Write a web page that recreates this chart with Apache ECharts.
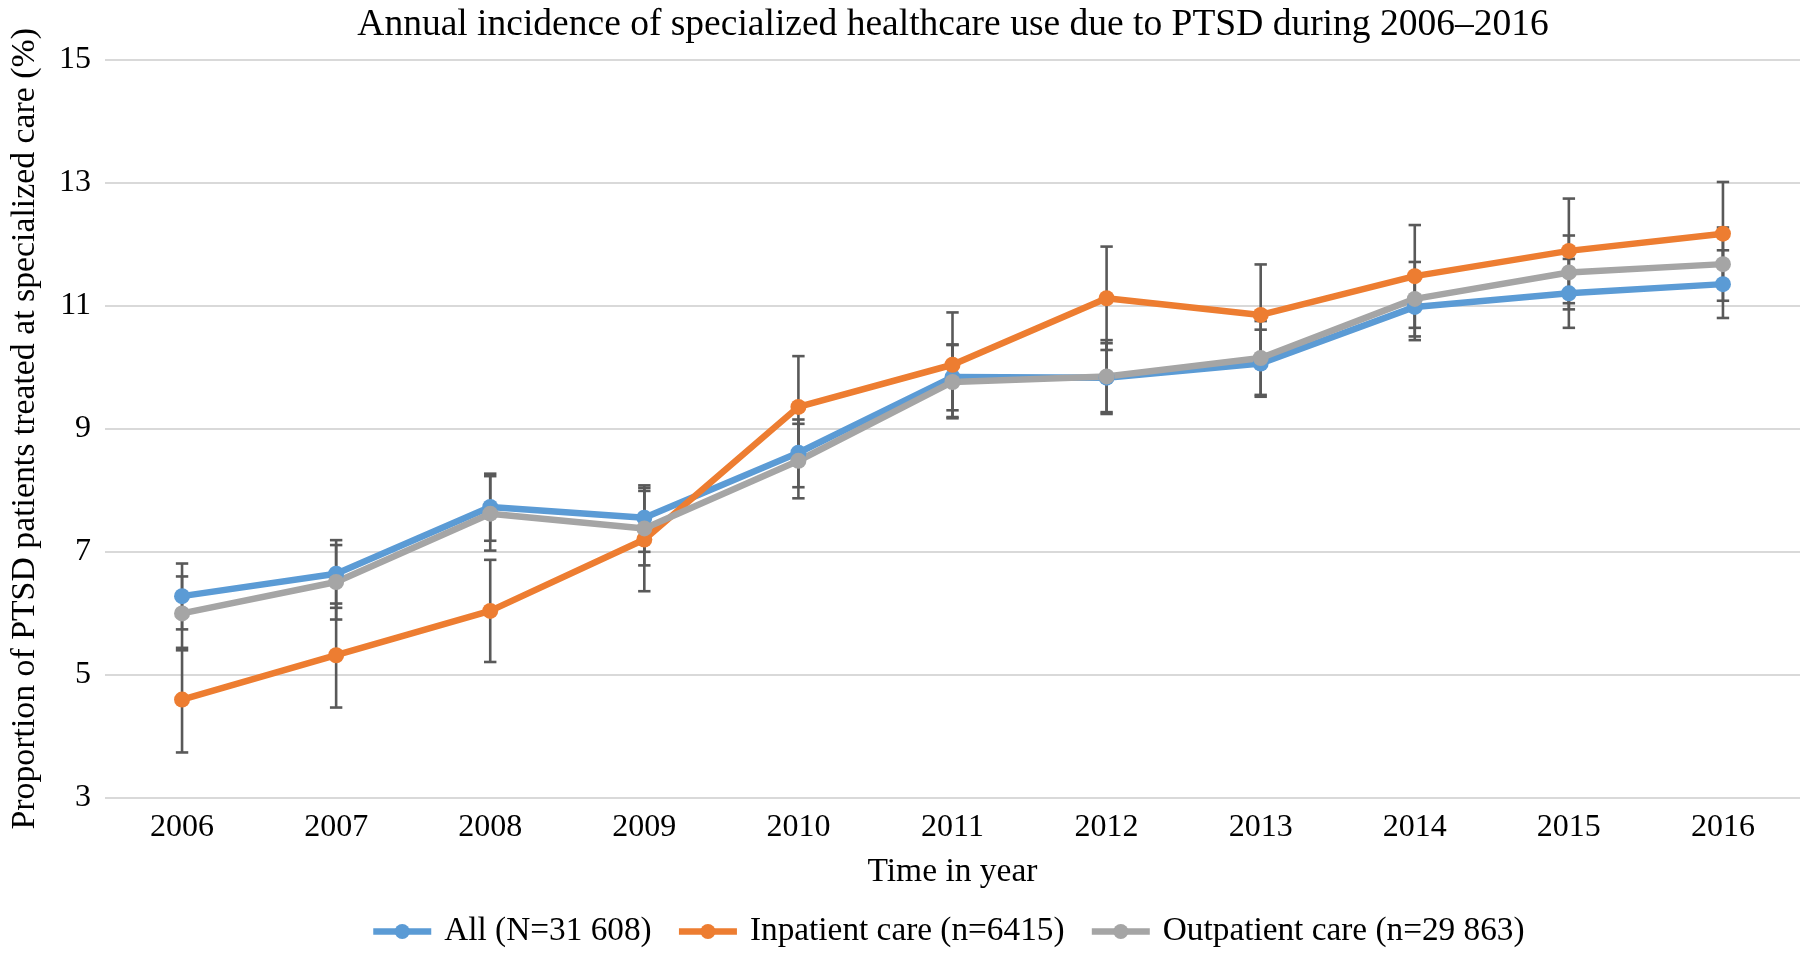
<!DOCTYPE html>
<html>
<head>
<meta charset="utf-8">
<script src="https://cdn.jsdelivr.net/npm/echarts@6/dist/echarts.min.js"></script>
<style>html,body{margin:0;padding:0;background:#fff}#c{width:1804px;height:954px}</style>
</head>
<body>
<div id="c"></div>
<script>
const years = ['2006','2007','2008','2009','2010','2011','2012','2013','2014','2015','2016'];
const yTicks = [3, 5, 7, 9, 11, 13, 15];

const allVals  = [6.28, 6.645, 7.73, 7.555, 8.61, 9.84, 9.83, 10.06, 10.98, 11.20, 11.35];
const allLow   = [5.74, 6.09, 7.18, 7.00, 8.05, 9.30, 9.27, 9.52, 10.44, 10.64, 10.80];
const allHigh  = [6.81, 7.19, 8.27, 8.08, 9.15, 10.37, 10.39, 10.61, 11.52, 11.76, 11.90];

const inpVals  = [4.60, 5.32, 6.04, 7.20, 9.355, 10.04, 11.12, 10.85, 11.48, 11.89, 12.17];
const inpLow   = [3.74, 4.47, 5.21, 6.36, 8.53, 9.19, 10.28, 10.02, 10.64, 11.04, 11.33];
const inpHigh  = [5.44, 6.16, 6.87, 8.04, 10.18, 10.89, 11.96, 11.67, 12.31, 12.74, 13.01];

const outVals  = [6.00, 6.51, 7.62, 7.38, 8.48, 9.76, 9.85, 10.15, 11.11, 11.54, 11.675];
const outLow   = [5.40, 5.90, 7.02, 6.78, 7.87, 9.17, 9.24, 9.55, 10.50, 10.94, 11.08];
const outHigh  = [6.60, 7.11, 8.23, 7.99, 9.08, 10.36, 10.44, 10.75, 11.71, 12.14, 12.27];

const names = ['All (N=31 608)', 'Inpatient care (n=6415)', 'Outpatient care (n=29 863)'];
const colors = ['#5b9bd5', '#ed7d31', '#a5a5a5'];

const FONT = '"Liberation Serif", "Times New Roman", serif';

function errData(low, high) {
  return years.map((y, i) => [i, low[i], high[i]]);
}
function errSeries(low, high) {
  return {
    type: 'custom',
    silent: true,
    z: 1,
    data: errData(low, high),
    renderItem: function (params, api) {
      const i = api.value(0);
      const p1 = api.coord([i, api.value(1)]);
      const p2 = api.coord([i, api.value(2)]);
      const hw = 6.2;
      const st = { stroke: '#595959', lineWidth: 2.6 };
      return {
        type: 'group',
        children: [
          { type: 'line', shape: { x1: p1[0], y1: p1[1], x2: p2[0], y2: p2[1] }, style: st },
          { type: 'line', shape: { x1: p1[0] - hw, y1: p1[1], x2: p1[0] + hw, y2: p1[1] }, style: st },
          { type: 'line', shape: { x1: p2[0] - hw, y1: p2[1], x2: p2[0] + hw, y2: p2[1] }, style: st }
        ]
      };
    }
  };
}
function lineSeries(name, vals, color) {
  return {
    name: name,
    type: 'line',
    z: 3,
    data: vals,
    symbol: 'circle',
    symbolSize: 16,
    lineStyle: { color: color, width: 6.5 },
    itemStyle: { color: color },
    emphasis: { disabled: true }
  };
}

const chart = echarts.init(document.getElementById('c'));
chart.setOption({
  animation: false,
  backgroundColor: '#fff',
  title: {
    text: 'Annual incidence of specialized healthcare use due to PTSD during 2006\u20132016',
    left: 948,
    top: 1,
    textAlign: 'center',
    textStyle: { fontFamily: FONT, fontSize: 37.5, fontWeight: 'normal', color: '#000' }
  },
  legend: {
    data: names,
    left: 370,
    top: 915,
    padding: 0,
    itemWidth: 58,
    itemHeight: 19,
    itemGap: 24,
    lineStyle: { width: 6.5 },
    textStyle: { fontFamily: FONT, fontSize: 33.3, color: '#000', padding: [0, 0, 0, 8] }
  },
  grid: { left: 97, right: 4, top: 59.5, bottom: 156, containLabel: false },
  xAxis: {
    type: 'category',
    data: years,
    boundaryGap: true,
    name: 'Time in year',
    nameLocation: 'middle',
    nameGap: 57,
    nameTextStyle: { fontFamily: FONT, fontSize: 33.5, color: '#000' },
    axisLine: { show: false },
    axisTick: { show: false },
    axisLabel: { fontFamily: FONT, fontSize: 32, color: '#000', margin: 14 }
  },
  yAxis: {
    type: 'value',
    min: yTicks[0],
    max: yTicks[yTicks.length - 1],
    interval: 2,
    name: 'Proportion of PTSD patients treated at specialized care (%)',
    nameLocation: 'middle',
    nameGap: 63,
    nameTextStyle: { fontFamily: FONT, fontSize: 33.8, color: '#000' },
    axisLine: { show: false },
    axisTick: { show: false },
    axisLabel: { fontFamily: FONT, fontSize: 32, color: '#000', margin: 14 },
    splitLine: { lineStyle: { color: '#d9d9d9', width: 2 } }
  },
  series: [
    errSeries(allLow, allHigh),
    errSeries(inpLow, inpHigh),
    errSeries(outLow, outHigh),
    lineSeries(names[0], allVals, colors[0]),
    lineSeries(names[1], inpVals, colors[1]),
    lineSeries(names[2], outVals, colors[2])
  ]
});
</script>
</body>
</html>
